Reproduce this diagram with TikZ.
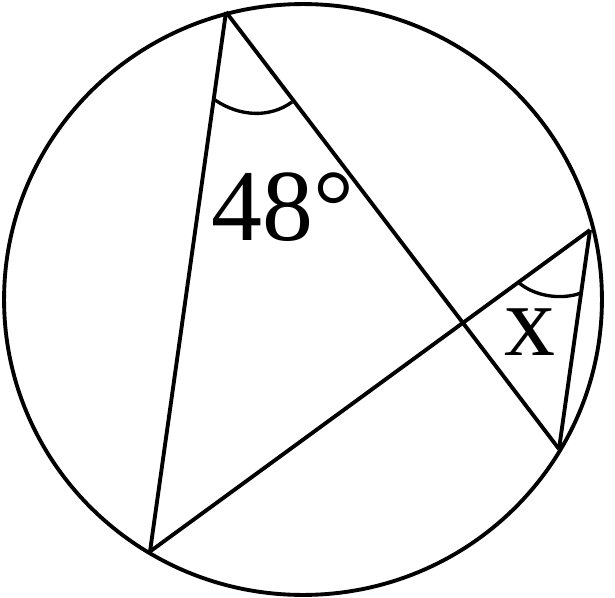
\documentclass[tikz,border=0pt]{standalone}
\usepackage{fontspec}
\setmainfont{Liberation Serif}
\begin{document}
\begin{tikzpicture}[x=0.02cm,y=-0.02cm,line width=2.2pt,
  anglabel/.style={inner sep=0pt,anchor=base west,font=\fontsize{58}{60}\selectfont}]
\useasboundingbox (0,0) rectangle (615,598);
\draw[color=black] (303,299.5) ellipse [x radius=5.98cm, y radius=5.91cm];

% Punkte auf dem Kreis
\coordinate (A) at (226,12);
\coordinate (B) at (150,551.5);
\coordinate (C) at (559,449);
\coordinate (D) at (590,230);

\draw[color=black] (A) -- (B);
\draw[color=black] (A) -- (C);
\draw[color=black] (B) -- (D);
\draw[color=black] (D) -- (C);

% Winkelboegen
\draw[color=black, line width=1.9pt] (215,100) .. controls (240,117) and (270,118) .. (292,102);
\draw[color=black, line width=1.9pt] (518,282) .. controls (535,297) and (562,300) .. (581,293);

\node[anglabel] (w48) at (210,240) {48°};
\node[anglabel] (wx) at (503,355) {x};
\end{tikzpicture}
\end{document}
